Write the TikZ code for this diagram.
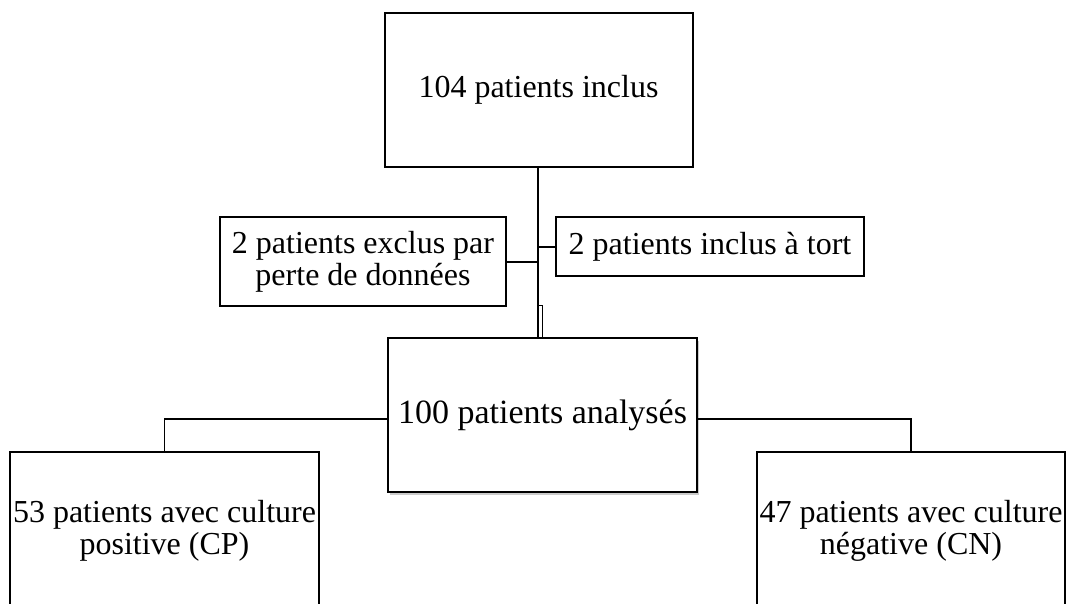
\documentclass[tikz,border=0pt]{standalone}
\usepackage{fontspec}
\setmainfont{Liberation Serif}
\usetikzlibrary{shadows}
\begin{document}
\begin{tikzpicture}[x=1pt,y=-1pt,
  box/.style={draw=black, line width=2pt, fill=white, inner sep=0pt, align=center,
    font=\fontsize{32}{32}\selectfont},
  link/.style={draw=black, line width=1.6pt},
  mainlink/.style={draw=black, line width=2.8pt}]
\useasboundingbox (0,0) rectangle (1066,603);
\clip (0,0) rectangle (1066,603);
\fill[white] (0,0) rectangle (1066,603);

\node[box, minimum width=308pt, minimum height=154pt] (top) at (538.5,90) {104 patients inclus};
\node[box, minimum width=286pt, minimum height=89pt] (excl) at (363,261.5) {2 patients exclus par\\perte de données};
\node[box, minimum width=308pt, minimum height=59pt] (incl) at (710,246.5) {2 patients inclus à tort};
\node[box, minimum width=309pt, minimum height=154pt,
  font=\fontsize{34}{34}\selectfont,
  drop shadow={shadow xshift=1.5pt, shadow yshift=-3pt, fill=black!45, opacity=0.45}] (mid) at (542.5,415) {100 patients analysés};
\node[box, minimum width=309pt, minimum height=158pt] (cp) at (164.5,531) {53 patients avec culture\\positive (CP)};
\node[box, minimum width=308pt, minimum height=158pt] (cn) at (911,531) {47 patients avec culture\\négative (CN)};

\coordinate (j1) at (538,262);
\coordinate (j2) at (538,247);
\coordinate (d1) at (538,305);
\coordinate (d2) at (542,305);

\draw[mainlink] (538,0 |- top.south) -- (538,0 |- mid.north);
\draw[line width=1pt] (d1) -- (d2) -- (d2 |- mid.north);
\draw[link] (excl.east |- j1) -- (j1);
\draw[link] (j2) -- (incl.west |- j2);
\draw[link] (mid.west |- 0,419) -| (cp.north);
\draw[link] (mid.east |- 0,419) -| (cn.north);
\end{tikzpicture}
\end{document}
